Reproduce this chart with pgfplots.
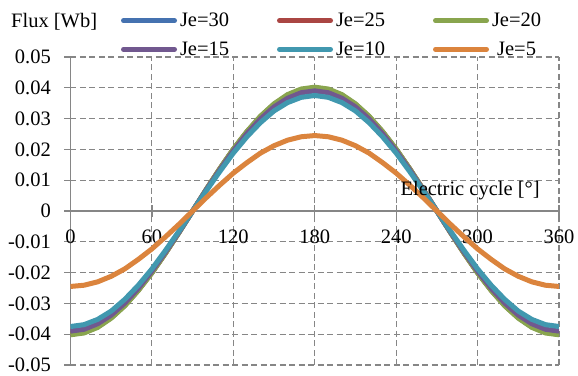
\documentclass[border=0pt]{standalone}
\usepackage{fontspec}
\setmainfont{Liberation Serif}
\usepackage{pgfplots}
\pgfplotsset{compat=1.18}
\usepackage{pgfplotstable}
\definecolor{cblue}{RGB}{69,114,176}
\definecolor{cred}{RGB}{170,70,67}
\definecolor{cgreen}{RGB}{137,165,78}
\definecolor{cpurple}{RGB}{113,88,143}
\definecolor{caqua}{RGB}{65,152,175}
\definecolor{corange}{RGB}{219,132,61}
\definecolor{gridgray}{RGB}{134,134,134}

\pgfplotstableread{
x j30 j25 j20 j15 j10 j5
0 -0.0399 -0.0400 -0.0402 -0.0390 -0.0375 -0.0245
10 -0.0393 -0.0394 -0.0396 -0.0384 -0.0369 -0.0241
20 -0.0375 -0.0376 -0.0378 -0.0366 -0.0352 -0.0230
30 -0.0346 -0.0346 -0.0348 -0.0338 -0.0325 -0.0212
40 -0.0306 -0.0306 -0.0308 -0.0299 -0.0287 -0.0188
50 -0.0256 -0.0257 -0.0258 -0.0251 -0.0241 -0.0157
60 -0.0200 -0.0200 -0.0201 -0.0195 -0.0188 -0.0123
70 -0.0136 -0.0137 -0.0137 -0.0133 -0.0128 -0.0084
80 -0.0069 -0.0069 -0.0070 -0.0068 -0.0065 -0.0043
90 0 0 0 0 0 0
100 0.0069 0.0069 0.0070 0.0068 0.0065 0.0043
110 0.0136 0.0137 0.0137 0.0133 0.0128 0.0084
120 0.0200 0.0200 0.0201 0.0195 0.0188 0.0123
130 0.0256 0.0257 0.0258 0.0251 0.0241 0.0157
140 0.0306 0.0306 0.0308 0.0299 0.0287 0.0188
150 0.0346 0.0346 0.0348 0.0338 0.0325 0.0212
160 0.0375 0.0376 0.0378 0.0366 0.0352 0.0230
170 0.0393 0.0394 0.0396 0.0384 0.0369 0.0241
180 0.0399 0.0400 0.0402 0.0390 0.0375 0.0245
190 0.0393 0.0394 0.0396 0.0384 0.0369 0.0241
200 0.0375 0.0376 0.0378 0.0366 0.0352 0.0230
210 0.0346 0.0346 0.0348 0.0338 0.0325 0.0212
220 0.0306 0.0306 0.0308 0.0299 0.0287 0.0188
230 0.0256 0.0257 0.0258 0.0251 0.0241 0.0157
240 0.0200 0.0200 0.0201 0.0195 0.0188 0.0123
250 0.0136 0.0137 0.0137 0.0133 0.0128 0.0084
260 0.0069 0.0069 0.0070 0.0068 0.0065 0.0043
270 0 0 0 0 0 0
280 -0.0069 -0.0069 -0.0070 -0.0068 -0.0065 -0.0043
290 -0.0136 -0.0137 -0.0137 -0.0133 -0.0128 -0.0084
300 -0.0200 -0.0200 -0.0201 -0.0195 -0.0188 -0.0123
310 -0.0256 -0.0257 -0.0258 -0.0251 -0.0241 -0.0157
320 -0.0306 -0.0306 -0.0308 -0.0299 -0.0287 -0.0188
330 -0.0346 -0.0346 -0.0348 -0.0338 -0.0325 -0.0212
340 -0.0375 -0.0376 -0.0378 -0.0366 -0.0352 -0.0230
350 -0.0393 -0.0394 -0.0396 -0.0384 -0.0369 -0.0241
360 -0.0399 -0.0400 -0.0402 -0.0390 -0.0375 -0.0245
}\fluxdata

\begin{document}
\rmfamily\fontsize{20.5bp}{24bp}\selectfont
\begin{tikzpicture}[font=\rmfamily\fontsize{20.5bp}{24bp}\selectfont]
\begin{axis}[
  scale only axis, width=488.5bp, height=308bp,
  xmin=0, xmax=360, ymin=-0.05, ymax=0.05,
  scaled y ticks=false, scaled x ticks=false,
  axis x line=middle, axis y line=left,
  axis line style={draw=gridgray, line width=1.3bp, -},
  hide obscured x ticks=false, hide obscured y ticks=false,
  xtick={0,60,...,360},
  xticklabels={0,60,120,180,240,300,360},
  ytick={-0.05,-0.04,-0.03,-0.02,-0.01,0,0.01,0.02,0.03,0.04,0.05},
  yticklabels={-0.05,-0.04,-0.03,-0.02,-0.01,0,0.01,0.02,0.03,0.04,0.05},
  tick align=center, major tick length=12bp,
  tick style={draw=gridgray, line width=1.3bp},
  grid=major,
  grid style={draw=gridgray, line width=1.1bp, dash pattern=on 6bp off 3.5bp},
  tick label style={font=\rmfamily\fontsize{20.5bp}{24bp}\selectfont, inner sep=0pt},
  xticklabel style={anchor=north, yshift=-12.8bp},
  yticklabel style={anchor=east, xshift=-13.5bp},
  xlabel={Electric cycle [°]},
  every axis x label/.style={at={(rel axis cs:0.818,0.565)}, anchor=center, inner sep=0pt},
  ylabel={Flux [Wb]},
  every axis y label/.style={at={(rel axis cs:-0.1218,1.0942)}, anchor=base west, inner sep=0pt},
  legend columns=3,
  legend style={at={(rel axis cs:0.1034,1.1373)}, anchor=north west, draw=none, fill=none,
    inner sep=0pt, outer sep=0pt,
    font=\rmfamily\fontsize{20.5bp}{24bp}\selectfont,
    row sep=16.7bp, nodes={inner sep=0pt, text height=12bp, text depth=0bp},
    /tikz/every odd column/.append style={column sep=3bp}},
  legend image code/.code={\draw[#1, line width=5bp, line cap=round] (0bp,0bp) -- (51bp,0bp);},
  every axis plot/.append style={line width=5bp, no markers},
]
\addplot[cblue] table[x=x, y=j30] {\fluxdata};
\addlegendentry{\makebox[97bp][l]{Je=30}}
\addplot[cred] table[x=x, y=j25] {\fluxdata};
\addlegendentry{\makebox[97bp][l]{Je=25}}
\addplot[cgreen] table[x=x, y=j20] {\fluxdata};
\addlegendentry{Je=20}
\addplot[cpurple] table[x=x, y=j15] {\fluxdata};
\addlegendentry{\makebox[97bp][l]{Je=15}}
\addplot[caqua] table[x=x, y=j10] {\fluxdata};
\addlegendentry{\makebox[97bp][l]{Je=10}}
\addplot[corange] table[x=x, y=j5] {\fluxdata};
\addlegendentry{Je=5}
\end{axis}
\path ([xshift=-70.5bp,yshift=-11bp]current axis.south west) ([xshift=19bp,yshift=57bp]current axis.north east);
\end{tikzpicture}
\end{document}
